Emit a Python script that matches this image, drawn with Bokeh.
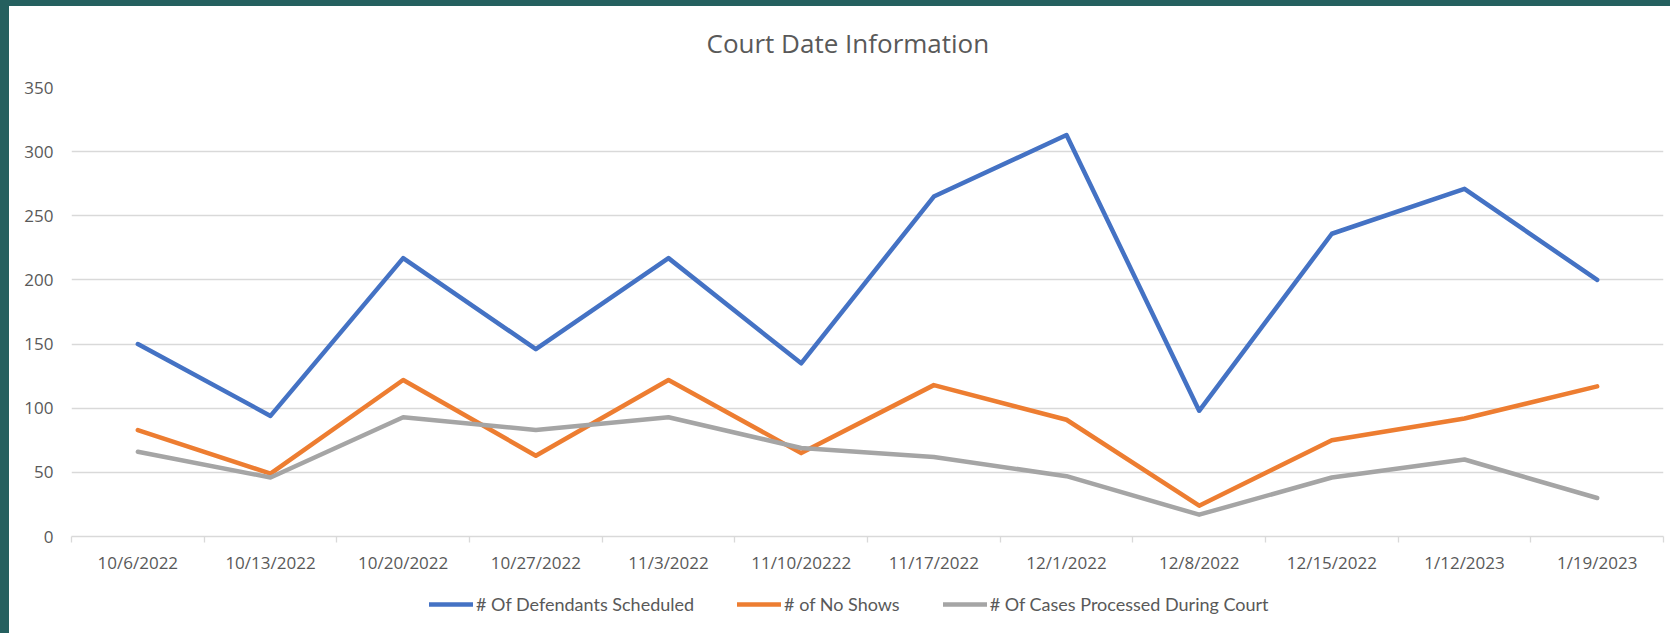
from bokeh.plotting import figure
from bokeh.layouts import column
from bokeh.models import Range1d, FixedTicker, Legend, LegendItem, Title, CustomJSTickFormatter
from bokeh.embed import file_html
from bokeh.resources import INLINE

# ---- data ----
dates = ["10/6/2022", "10/13/2022", "10/20/2022", "10/27/2022", "11/3/2022", "11/10/20222",
         "11/17/2022", "12/1/2022", "12/8/2022", "12/15/2022", "1/12/2023", "1/19/2023"]
defendants = [150, 94, 217, 146, 217, 135, 265, 313, 98, 236, 271, 200]
no_shows = [83, 49, 122, 63, 122, 65, 118, 91, 24, 75, 92, 117]
processed = [66, 46, 93, 83, 93, 69, 62, 47, 17, 46, 60, 30]
y_ticks = [0, 50, 100, 150, 200, 250, 300, 350]
series_names = ["# Of Defendants Scheduled", "# of No Shows", "# Of Cases Processed During Court"]
colors = ["#4472C4", "#ED7D31", "#A5A5A5"]

n = len(dates)
x = [i + 0.5 for i in range(n)]
bounds = list(range(n + 1))

TXT = "#595959"
GRID = "#D9D9D9"
FONT = "Open Sans"
LW = 4.5

p = figure(width=1661, height=580, title=None,
           x_range=Range1d(0, n), y_range=Range1d(0, 350),
           output_backend="svg", toolbar_location=None,
           min_border_left=62, min_border_right=7, min_border_top=81, min_border_bottom=50,
           background_fill_color="white", border_fill_color="white")
p.outline_line_color = None

# small spacer between frame and title, then the title itself
p.add_layout(Title(text=" ", text_font_size="1px", standoff=8), "above")
p.add_layout(Title(text="Court Date Information", align="left", offset=635,
                   text_font=FONT, text_font_size="26px", text_font_style="normal",
                   text_color=TXT, standoff=32), "above")

# x axis
xa = p.xaxis[0]
xa.ticker = FixedTicker(ticks=x, minor_ticks=bounds)
xa.formatter = CustomJSTickFormatter(args=dict(labels=dates),
                                     code="return labels[Math.floor(tick)];")
xa.axis_line_color = GRID
xa.axis_line_width = 1.3
xa.major_tick_line_color = None
xa.major_tick_out = 0
xa.major_tick_in = 0
xa.minor_tick_line_color = GRID
xa.minor_tick_line_width = 1.3
xa.minor_tick_out = 6
xa.minor_tick_in = 0
xa.major_label_standoff = 8
xa.major_label_text_font = FONT
xa.major_label_text_font_size = "17px"
xa.major_label_text_color = TXT

# y axis
ya = p.yaxis[0]
ya.ticker = FixedTicker(ticks=y_ticks)
ya.axis_line_color = None
ya.major_tick_line_color = None
ya.minor_tick_line_color = None
ya.major_tick_out = 0
ya.major_tick_in = 0
ya.major_label_standoff = 18
ya.major_label_text_font = FONT
ya.major_label_text_font_size = "17px"
ya.major_label_text_color = TXT

p.xgrid.grid_line_color = None
p.ygrid.ticker = FixedTicker(ticks=y_ticks)
p.ygrid.grid_line_color = GRID
p.ygrid.grid_line_width = 1.3

for vals, c in zip([defendants, no_shows, processed], colors):
    p.line(x, vals, line_color=c, line_width=LW, line_join="round", line_cap="round")

# legend strip (separate figure so the legend is not clipped)
lg = figure(width=1661, height=47, x_range=Range1d(0, 1), y_range=Range1d(0, 1),
            output_backend="svg", toolbar_location=None,
            x_axis_location=None, y_axis_location=None,
            min_border_left=0, min_border_right=0, min_border_top=0, min_border_bottom=0,
            background_fill_color="white", border_fill_color="white")
lg.outline_line_color = None
lg.xgrid.grid_line_color = None
lg.ygrid.grid_line_color = None
nan = float("nan")
proxies = [lg.line([nan], [nan], line_color=c, line_width=LW, line_cap="round") for c in colors]
legend = Legend(items=[LegendItem(label=nm, renderers=[r]) for nm, r in zip(series_names, proxies)],
                orientation="horizontal", location=(358, 18),
                padding=0, margin=0, spacing=43, label_standoff=3,
                glyph_width=44, glyph_height=20, label_height=20,
                border_line_color=None, background_fill_alpha=0,
                label_text_font="Lato", label_text_font_size="18px",
                label_text_color=TXT)
lg.add_layout(legend, "center")

layout = column(p, lg, spacing=0)

html = file_html(layout, INLINE, title="Court Date Information")
html = html.replace("</head>", "<style>html,body{margin:0 !important;padding:0 !important;overflow:hidden !important;background:#ffffff !important;}body{border-top:6px solid #25605f !important;border-left:9px solid #25605f !important;}</style></head>", 1)
open("out.html", "w").write(html)
